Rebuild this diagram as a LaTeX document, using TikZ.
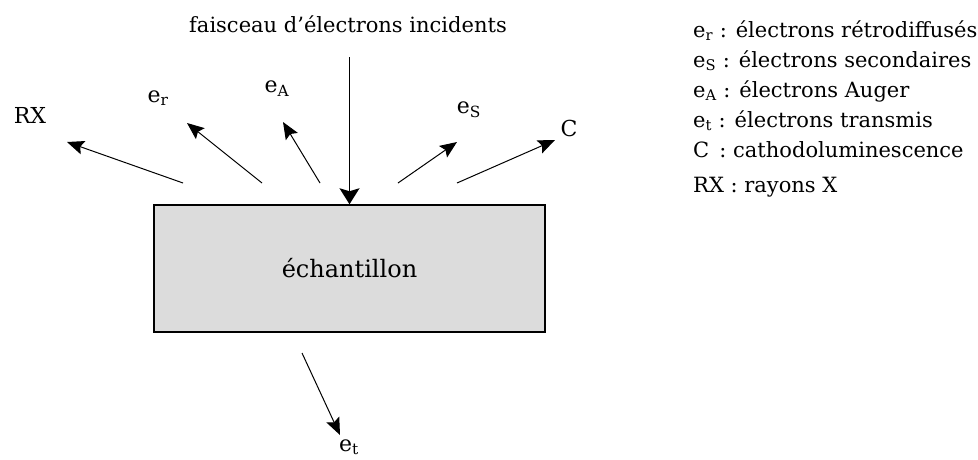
\documentclass[tikz,border=0pt]{standalone}
\usepackage{fontspec}
\setmainfont{DejaVu Serif}
\usetikzlibrary{arrows.meta}
\tikzset{
  ray/.style={line width=1pt, -{Stealth[length=17pt,width=14pt,inset=3pt]}},
  beam/.style={line width=1.4pt, -{Stealth[length=16pt,width=20pt,inset=3pt]}},
  lbl/.style={inner sep=0pt, font=\fontsize{22}{26}\selectfont},
  leg/.style={inner sep=0pt, anchor=base west, font=\fontsize{21}{25}\selectfont},
  sample/.style={draw=black, line width=1.5pt, fill=sampgray, minimum width=391pt, minimum height=127pt, inner sep=0pt, font=\fontsize{24}{28}\selectfont}
}
\definecolor{sampgray}{HTML}{DCDCDC}
\begin{document}
\begin{tikzpicture}[x=1pt,y=-1pt]
\useasboundingbox (0,0) rectangle (978,459);
% sample
\node[sample] (box) at (349.5,268.5) {échantillon};
% title and incident beam
\node[lbl, anchor=base, font=\fontsize{21}{25}\selectfont] (title) at (348,32) {faisceau d’électrons incidents};
\coordinate (inTop) at (349.5,57);
\draw[beam] (inTop) -- (box.north);
% emitted rays
\coordinate (rxT) at (183,183);   \coordinate (rxH) at (67,142);
\coordinate (erT) at (262,183);   \coordinate (erH) at (187,123);
\coordinate (eaT) at (320,183);   \coordinate (eaH) at (283,122);
\coordinate (esT) at (398,183);   \coordinate (esH) at (457,142);
\coordinate (cT) at (457,183);    \coordinate (cH) at (555,140);
\coordinate (etT) at (302,353);   \coordinate (etH) at (340,435);
\draw[ray] (rxT) -- (rxH);
\draw[ray] (erT) -- (erH);
\draw[ray] (eaT) -- (eaH);
\draw[ray] (esT) -- (esH);
\draw[ray] (cT) -- (cH);
\draw[ray] (etT) -- (etH);
% labels
\node[lbl] (lRX) at (30,115) {RX};
\node[lbl] (lER) at (158,98) {e\textsubscript{r}};
\node[lbl] (lEA) at (277,89) {e\textsubscript{A}};
\node[lbl] (lES) at (469,110) {e\textsubscript{S}};
\node[lbl] (lC) at (569,128) {C};
\node[lbl] (lET) at (349,447) {e\textsubscript{t}};
% legend
\node[leg] (g1) at (693,37) {e\textsubscript{r} : électrons rétrodiffusés};
\node[leg] (g2) at (693,67) {e\textsubscript{S} : électrons secondaires};
\node[leg] (g3) at (693,97) {e\textsubscript{A} : électrons Auger};
\node[leg] (g4) at (693,127) {e\textsubscript{t} : électrons transmis};
\node[leg] (g5) at (693,157) {C \,: cathodoluminescence};
\node[leg] (g6) at (693,192) {RX : rayons X};
\end{tikzpicture}
\end{document}
